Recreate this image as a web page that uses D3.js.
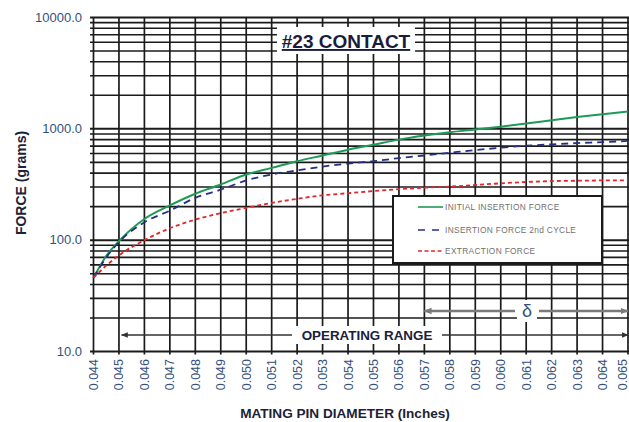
<!DOCTYPE html>
<html>
<head>
<meta charset="utf-8">
<script src="https://cdn.jsdelivr.net/npm/d3@7.9.0/dist/d3.min.js"></script>
<style>
  html, body { margin: 0; padding: 0; background: #fff; }
  svg { display: block; font-family: "Liberation Sans", Arial, sans-serif; }
</style>
</head>
<body>
<svg id="chart" width="629" height="422"></svg>
<script>
// pin diameter (inches) and force readings (grams)
const diameters = [0.044, 0.0445, 0.045, 0.046, 0.047, 0.048, 0.049, 0.050, 0.051, 0.052, 0.053,
  0.054, 0.055, 0.056, 0.057, 0.058, 0.059, 0.060, 0.061, 0.062, 0.063, 0.064, 0.065];
const initialInsertion = [46, 72, 98, 155, 205, 261, 316, 389, 446, 512, 576,
  650, 720, 800, 870, 933, 985, 1045, 1115, 1195, 1275, 1350, 1430];
const secondCycle = [46, 70, 96, 145, 184, 240, 284, 344, 389, 423, 458,
  488, 512, 546, 576, 610, 645, 676, 705, 725, 745, 760, 778];
const extraction = [46, 59, 73, 100, 128, 153, 175, 195, 216, 235, 253,
  264, 276, 287, 296, 303, 313, 324, 333, 339, 342, 344, 345];

const xTicks = d3.range(44, 66).map((d) => d / 1000);
const yTicks = [10, 100, 1000, 10000];

const series = [
  { name: 'INITIAL INSERTION FORCE', values: initialInsertion, color: '#1e9a55', dash: null, width: 2 },
  { name: 'INSERTION FORCE 2nd CYCLE', values: secondCycle, color: '#232f86', dash: '7,5', width: 1.8 },
  { name: 'EXTRACTION FORCE', values: extraction, color: '#e2262b', dash: '4,3', width: 1.8 }
];

const operatingRange = [0.0451, 0.065];
const deltaRange = [0.057, 0.065];

const svg = d3.select('#chart');

const x = d3.scaleLinear().domain([0.044, 0.065]).range([93.5, 628]);
const y = d3.scaleLog().domain([10, 10000]).range([351.5, 17.5]);

const labelColor = '#34507c';
const gridColor = '#1b1b1b';

// horizontal log grid (minor lines at 2..9 of each decade)
const grid = svg.append('g');
const hLines = [];
for (let dec = 10; dec < 10000; dec *= 10) {
  for (let m = 1; m < 10; m++) hLines.push(dec * m);
}
hLines.push(10000);
grid.selectAll('line.h')
  .data(hLines)
  .join('line')
  .attr('x1', 90)
  .attr('x2', 629)
  .attr('y1', (d) => y(d))
  .attr('y2', (d) => y(d))
  .attr('stroke', gridColor)
  .attr('stroke-width', (d) => (yTicks.includes(d) ? 2 : 1.6));

// vertical grid at every 0.001"
grid.selectAll('line.v')
  .data(xTicks)
  .join('line')
  .attr('x1', (d) => x(d))
  .attr('x2', (d) => x(d))
  .attr('y1', y(10000))
  .attr('y2', y(10) + 3)
  .attr('stroke', gridColor)
  .attr('stroke-width', 1.7);

// y tick labels
svg.append('g')
  .selectAll('text')
  .data(yTicks)
  .join('text')
  .attr('x', 82)
  .attr('y', (d) => y(d) + 4)
  .attr('text-anchor', 'end')
  .attr('font-size', 13)
  .attr('fill', labelColor)
  .text((d) => d3.format('.1f')(d));

// x tick labels, rotated (last one kept inside the frame)
svg.append('g')
  .selectAll('text')
  .data(xTicks)
  .join('text')
  .attr('transform', (d) => `translate(${Math.min(x(d) + 4.5, 627)},359) rotate(-90)`)
  .attr('text-anchor', 'end')
  .attr('font-size', 12.5)
  .attr('fill', labelColor)
  .text((d) => d3.format('.3f')(d));

// axis titles
svg.append('text')
  .attr('transform', 'translate(26,183) rotate(-90)')
  .attr('text-anchor', 'middle')
  .attr('font-size', 14)
  .attr('font-weight', 'bold')
  .attr('fill', '#1c2238')
  .text('FORCE (grams)');

svg.append('text')
  .attr('x', 345)
  .attr('y', 418)
  .attr('text-anchor', 'middle')
  .attr('font-size', 13.6)
  .attr('font-weight', 'bold')
  .attr('fill', '#1c2238')
  .text('MATING PIN DIAMETER (Inches)');

// curves
const line = d3.line()
  .x((d) => x(d[0]))
  .y((d) => y(d[1]))
  .curve(d3.curveMonotoneX);

series.forEach((s) => {
  svg.append('path')
    .attr('d', line(diameters.map((d, i) => [d, s.values[i]])))
    .attr('fill', 'none')
    .attr('stroke', s.color)
    .attr('stroke-width', s.width)
    .attr('stroke-dasharray', s.dash);
});

// title box
svg.append('rect')
  .attr('x', 277).attr('y', 27).attr('width', 138).attr('height', 27)
  .attr('fill', '#fff');
svg.append('text')
  .attr('x', 346)
  .attr('y', 48)
  .attr('text-anchor', 'middle')
  .attr('font-size', 19)
  .attr('font-weight', 'bold')
  .attr('fill', '#1a1d3a')
  .attr('text-decoration', 'underline')
  .text('#23 CONTACT');

// legend
const legend = svg.append('g');
legend.append('rect')
  .attr('x', 393).attr('y', 196).attr('width', 209).attr('height', 67)
  .attr('fill', '#fff')
  .attr('stroke', '#1b1b1b')
  .attr('stroke-width', 2);
const rowY = [207, 230, 251];
series.forEach((s, i) => {
  legend.append('line')
    .attr('x1', 418).attr('x2', 443)
    .attr('y1', rowY[i]).attr('y2', rowY[i])
    .attr('stroke', s.color)
    .attr('stroke-width', 1.6)
    .attr('stroke-dasharray', s.dash ? (i === 1 ? '7,7' : '4,2.5') : null);
  legend.append('text')
    .attr('x', 445)
    .attr('y', rowY[i] + 3)
    .attr('font-size', 8.3)
    .attr('fill', '#707070')
    .attr('letter-spacing', 0.35)
    .text(s.name);
});

// range arrows
const defs = svg.append('defs');
function marker(id, color, size) {
  defs.append('marker')
    .attr('id', id)
    .attr('viewBox', '0 0 10 10')
    .attr('refX', 9).attr('refY', 5)
    .attr('markerWidth', size).attr('markerHeight', size)
    .attr('orient', 'auto-start-reverse')
    .attr('markerUnits', 'userSpaceOnUse')
    .append('path')
    .attr('d', 'M0,1 L10,5 L0,9 Z')
    .attr('fill', color);
}
marker('arrDark', '#333', 7);
marker('arrGrey', '#7a7a7a', 8);

// operating range
const opY = 335;
svg.append('line')
  .attr('x1', x(operatingRange[0])).attr('x2', 292)
  .attr('y1', opY).attr('y2', opY)
  .attr('stroke', '#333').attr('stroke-width', 1.4)
  .attr('marker-start', 'url(#arrDark)');
svg.append('line')
  .attr('x1', 442).attr('x2', x(operatingRange[1]))
  .attr('y1', opY).attr('y2', opY)
  .attr('stroke', '#333').attr('stroke-width', 1.4)
  .attr('marker-end', 'url(#arrDark)');
svg.append('rect')
  .attr('x', 296).attr('y', opY - 9).attr('width', 142).attr('height', 18)
  .attr('fill', '#fff');
svg.append('text')
  .attr('x', 367)
  .attr('y', opY + 5)
  .attr('text-anchor', 'middle')
  .attr('font-size', 13.4)
  .attr('font-weight', 'bold')
  .attr('fill', '#1a2040')
  .text('OPERATING RANGE');

// delta zone
const dY = 311;
svg.append('line')
  .attr('x1', x(deltaRange[0])).attr('x2', 515)
  .attr('y1', dY).attr('y2', dY)
  .attr('stroke', '#7a7a7a').attr('stroke-width', 2.6)
  .attr('marker-start', 'url(#arrGrey)');
svg.append('line')
  .attr('x1', 539).attr('x2', x(deltaRange[1]))
  .attr('y1', dY).attr('y2', dY)
  .attr('stroke', '#7a7a7a').attr('stroke-width', 2.6)
  .attr('marker-end', 'url(#arrGrey)');
svg.append('rect')
  .attr('x', 517).attr('y', dY - 11).attr('width', 20).attr('height', 22)
  .attr('fill', '#fff');
svg.append('text')
  .attr('x', 527)
  .attr('y', dY + 6)
  .attr('text-anchor', 'middle')
  .attr('font-size', 18)
  .attr('fill', labelColor)
  .text('δ');
</script>
</body>
</html>
